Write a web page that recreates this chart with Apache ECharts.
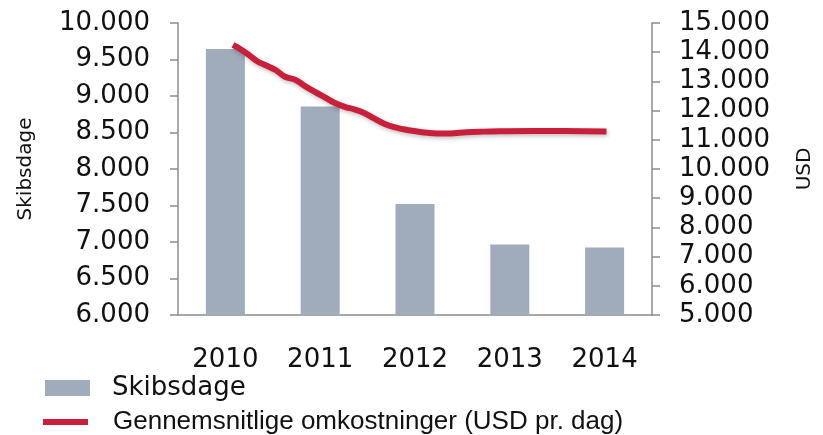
<!DOCTYPE html>
<html>
<head>
<meta charset="utf-8">
<script src="https://cdn.jsdelivr.net/npm/echarts@6/dist/echarts.min.js"></script>
<style>
  html, body { margin: 0; padding: 0; background: #fff; }
  #chart { width: 823px; height: 435px; }
</style>
</head>
<body>
<div id="chart"></div>
<script>
// skibsdage pr. år (venstre akse)
var years = ['2010', '2011', '2012', '2013', '2014']
var skibsdage = [9645, 8855, 7520, 6965, 6925]

// gennemsnitlige omkostninger, aflæst langs kurven (år, USD pr. dag)
var costYears = [2010.08, 2010.16, 2010.25, 2010.34, 2010.42, 2010.53, 2010.63, 2010.74, 2010.84, 2010.94,
  2011.05, 2011.15, 2011.26, 2011.36, 2011.47, 2011.57, 2011.67, 2011.78, 2011.88, 2011.99,
  2012.13, 2012.23, 2012.37, 2012.54, 2012.72, 2012.89, 2013.24, 2013.58, 2014.02]
var costUsd = [14250, 14100, 13900, 13680, 13560, 13390, 13160, 13050, 12840, 12650,
  12450, 12270, 12130, 12040, 11910, 11730, 11560, 11430, 11360, 11300,
  11240, 11220, 11220, 11260, 11280, 11290, 11300, 11300, 11280]

var leftTicks = [6000, 10000, 500]
var rightTicks = [5000, 15000, 1000]

var barName = 'Skibsdage'
var lineName = 'Gennemsnitlige omkostninger (USD pr. dag)'

function fmt (v) {
  return String(v).replace(/\B(?=(\d{3})+(?!\d))/g, '.')
}

var axisGray = '#8c8c8c'
var tickFont = { fontFamily: 'DejaVu Sans', fontSize: 26, color: '#111' }

var myChart = echarts.init(document.getElementById('chart'))
var option = {
  animation: false,
  grid: { left: 178, right: 165, top: 23, bottom: 120 },
  legend: [
    {
      left: 45, top: 375, padding: 0,
      itemWidth: 45, itemHeight: 16,
      data: [{ name: barName, icon: 'rect' }],
      textStyle: { fontFamily: 'DejaVu Sans', fontSize: 26, color: '#111', padding: [0, 0, 0, 17] }
    },
    {
      left: 43, top: 409, padding: 0,
      itemWidth: 45, itemHeight: 6,
      data: [{ name: lineName, icon: 'rect' }],
      textStyle: { fontFamily: 'Liberation Sans', fontSize: 26, color: '#111', padding: [0, 0, 0, 20] }
    }
  ],
  xAxis: [
    {
      type: 'category',
      data: years,
      axisLine: { lineStyle: { color: axisGray, width: 1.5 } },
      axisTick: { lineStyle: { color: axisGray, width: 1.5 }, length: 8 },
      axisLabel: Object.assign({ margin: 32 }, tickFont),
      splitLine: { show: false }
    },
    {
      type: 'value',
      min: 2009.5,
      max: 2014.5,
      show: false
    }
  ],
  yAxis: [
    {
      type: 'value',
      name: 'Skibsdage',
      nameLocation: 'middle',
      nameRotate: 90,
      nameGap: 142,
      nameTextStyle: { fontFamily: 'DejaVu Sans', fontSize: 20, color: '#111' },
      min: leftTicks[0], max: leftTicks[1], interval: leftTicks[2],
      axisLine: { show: true, lineStyle: { color: axisGray, width: 1.5 } },
      axisTick: { show: true, length: 8, lineStyle: { color: axisGray, width: 1.5 } },
      axisLabel: Object.assign({ margin: 28, formatter: fmt }, tickFont),
      splitLine: { show: false }
    },
    {
      type: 'value',
      name: 'USD',
      nameLocation: 'middle',
      nameRotate: 90,
      nameGap: 143,
      nameTextStyle: { fontFamily: 'DejaVu Sans', fontSize: 20, color: '#111' },
      min: rightTicks[0], max: rightTicks[1], interval: rightTicks[2],
      axisLine: { show: true, lineStyle: { color: axisGray, width: 1.5 } },
      axisTick: { show: true, length: 8, lineStyle: { color: axisGray, width: 1.5 } },
      axisLabel: Object.assign({ margin: 27, formatter: fmt }, tickFont),
      splitLine: { show: false }
    }
  ],
  series: [
    {
      name: barName,
      type: 'bar',
      xAxisIndex: 0,
      yAxisIndex: 0,
      barWidth: 39,
      data: skibsdage,
      itemStyle: { color: '#a0acbb' }
    },
    {
      name: lineName,
      type: 'line',
      xAxisIndex: 1,
      yAxisIndex: 1,
      data: costYears.map(function (y, i) { return [y, costUsd[i]] }),
      smooth: 0.4,
      showSymbol: false,
      color: '#c8203a',
      lineStyle: {
        color: '#c8203a',
        width: 6,
        shadowColor: 'rgba(0,0,0,0.25)',
        shadowBlur: 4,
        shadowOffsetX: 1,
        shadowOffsetY: 2
      }
    }
  ]
}
option && myChart.setOption(option)
window.addEventListener('resize', function () { myChart.resize() })
</script>
</body>
</html>
